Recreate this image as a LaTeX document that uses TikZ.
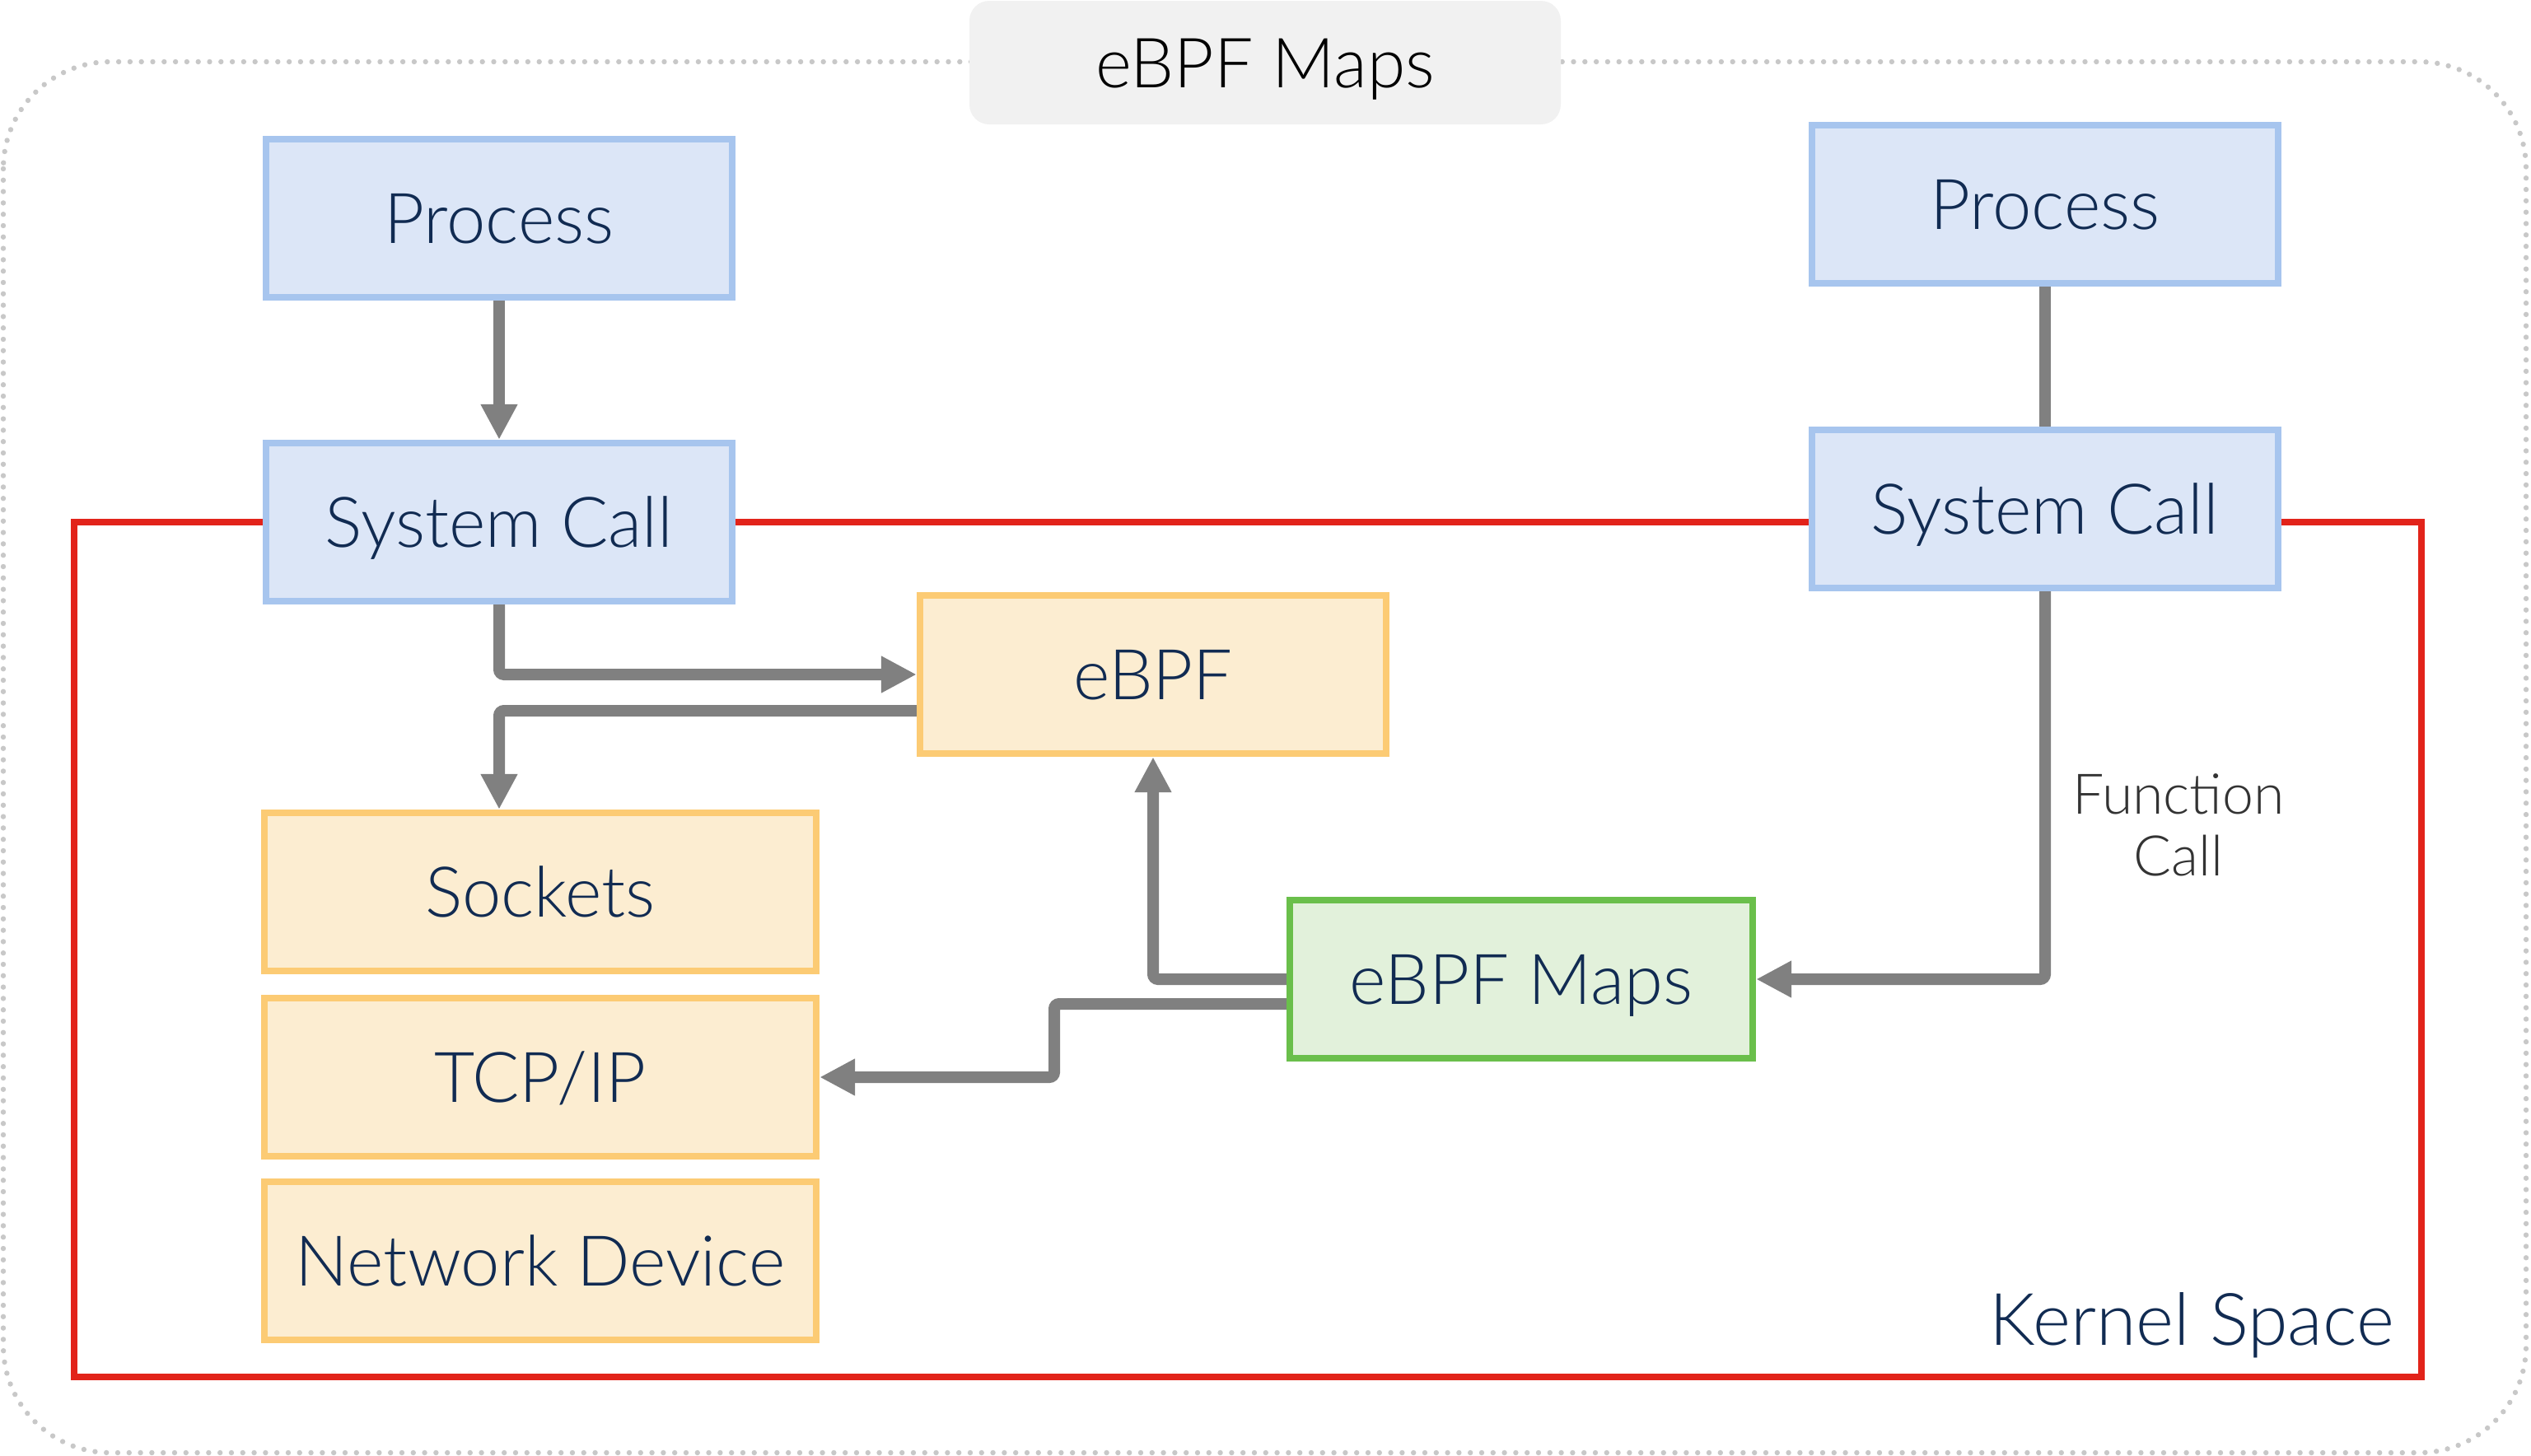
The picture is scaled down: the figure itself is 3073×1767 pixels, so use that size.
\documentclass[tikz,border=0pt]{standalone}
\usepackage{fontspec}
\setmainfont{Lato}[UprightFont=* Light]
\usetikzlibrary{arrows.meta,calc}
\definecolor{bluebd}{HTML}{A7C5EE}
\definecolor{bluefl}{HTML}{DCE6F7}
\definecolor{orbd}{HTML}{FCCB74}
\definecolor{orfl}{HTML}{FCEDD1}
\definecolor{grbd}{HTML}{6ABF4B}
\definecolor{grfl}{HTML}{E2F1DB}
\definecolor{kred}{HTML}{E2231A}
\definecolor{arrgray}{HTML}{808080}
\definecolor{navy}{HTML}{112B52}
\definecolor{dotgray}{HTML}{C8C8C8}
\definecolor{titlefl}{HTML}{F1F1F1}
\begin{document}
\begin{tikzpicture}[x=0.5pt,y=-0.5pt,
  boxbase/.style={draw, line width=4.2pt, minimum width=283pt, minimum height=96pt,
    inner sep=0pt, text height=30.5pt, text depth=0pt, text=navy,
    font=\fontsize{42.5pt}{51pt}\selectfont},
  bluebox/.style={boxbase, draw=bluebd, fill=bluefl},
  orbox/.style={boxbase, draw=orbd, fill=orfl, minimum width=335pt},
  grbox/.style={boxbase, draw=grbd, fill=grfl, minimum width=281pt},
  conn/.style={draw=arrgray, line width=7pt, rounded corners=3pt},
  arr/.style={conn, -{Triangle[length=21.5pt,width=21pt]}}
]
\useasboundingbox (0,0) rectangle (3073,1767);
% outer dotted frame
\draw[dotgray, line width=3.2pt, line cap=round, dash pattern=on 0pt off 6.9pt, rounded corners=65pt]
  (4,75) rectangle (3067,1764);
% title
\node[fill=titlefl, rounded corners=12pt, minimum width=359pt, minimum height=75pt, inner sep=0pt,
  text height=30pt, text depth=0pt,
  text=black, font=\fontsize{42pt}{50pt}\selectfont] (title) at (1536,76) {eBPF Maps};
% kernel space
\draw[kred, line width=4pt] (90,634) rectangle (2940,1672);
\node[anchor=base east, inner sep=0pt, text=navy, font=\fontsize{44pt}{51pt}\selectfont] (kernel) at (2907,1633) {Kernel Space};
% nodes
\node[bluebox] (proc1) at (606,265) {Process};
\node[bluebox] (sys1) at (606,634) {System Call};
\node[bluebox] (proc2) at (2483,248) {Process};
\node[bluebox] (sys2) at (2483,618) {System Call};
\node[orbox, minimum width=283pt] (ebpf) at (1400,819) {eBPF};
\node[grbox] (maps) at (1847,1189) {eBPF Maps};
\node[orbox] (sock) at (656,1083) {Sockets};
\node[orbox] (tcp) at (656,1308) {TCP/IP};
\node[orbox] (netdev) at (656,1531) {Network Device};
\node[align=center, text=black!80, inner sep=0pt,
  font=\fontsize{34pt}{37.5pt}\selectfont] (fcall) at (2645,1002) {Function\\Call};
% connectors
\draw[arr] (proc1.south) -- (sys1.north);
\draw[conn] (proc2.south) -- (sys2.north);
\draw[arr] (sys1.south) |- (ebpf.west);
\coordinate (eout) at ($(ebpf.west)+(0,44)$);
\draw[arr] (eout) -| (sock.north -| sys1.south);
\draw[arr] (maps.west) -| (ebpf.south);
\coordinate (mout) at ($(maps.west)+(0,30)$);
\coordinate (bend) at (1280,1219);
\draw[arr] (mout) -- (bend) |- (tcp.east);
\draw[arr] (sys2.south) |- (maps.east);
\end{tikzpicture}
\end{document}
